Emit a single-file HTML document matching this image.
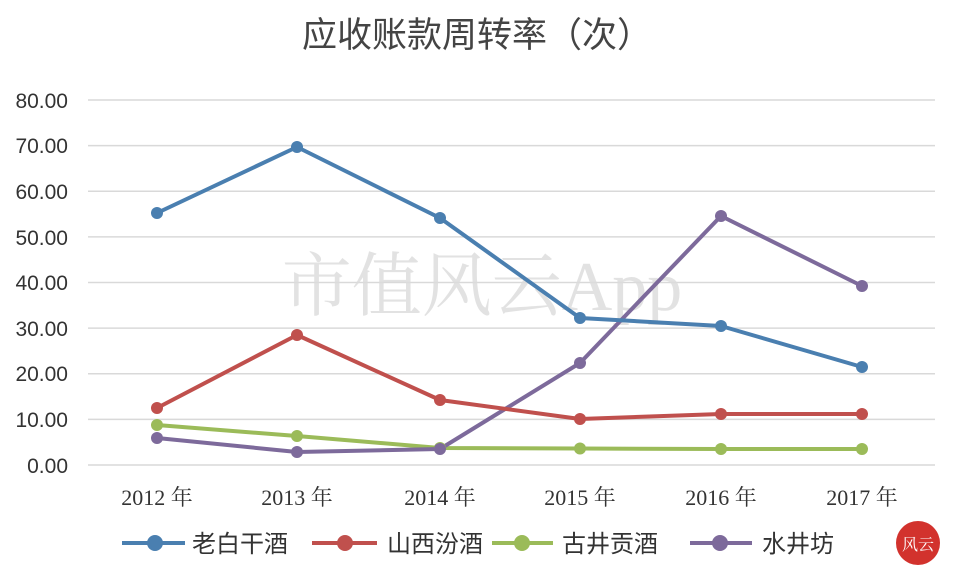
<!DOCTYPE html>
<html><head><meta charset="utf-8"><style>
body{margin:0;background:#fff;}
svg{display:block}
</style></head><body>
<svg width="958" height="574" viewBox="0 0 958 574" xmlns="http://www.w3.org/2000/svg">
<rect width="958" height="574" fill="#fff"/>
<text x="477" y="47" text-anchor="middle" font-family="Liberation Sans, Noto Sans CJK SC, sans-serif" font-size="35" fill="#444">应收账款周转率（次）</text>
<g stroke="#d9d9d9" stroke-width="1.5">
<line x1="88" x2="935" y1="100" y2="100"/><line x1="88" x2="935" y1="145.6" y2="145.6"/>
<line x1="88" x2="935" y1="191.2" y2="191.2"/><line x1="88" x2="935" y1="236.9" y2="236.9"/>
<line x1="88" x2="935" y1="282.5" y2="282.5"/><line x1="88" x2="935" y1="328.1" y2="328.1"/>
<line x1="88" x2="935" y1="373.7" y2="373.7"/><line x1="88" x2="935" y1="419.4" y2="419.4"/>
<line x1="88" x2="935" y1="465" y2="465"/>
</g>
<g font-family="Liberation Sans, sans-serif" font-size="21" fill="#333" text-anchor="end">
<text x="68" y="108">80.00</text><text x="68" y="153">70.00</text><text x="68" y="199">60.00</text>
<text x="68" y="245">50.00</text><text x="68" y="290">40.00</text><text x="68" y="336">30.00</text>
<text x="68" y="381">20.00</text><text x="68" y="427">10.00</text><text x="68" y="473">0.00</text>
</g>
<g font-family="Liberation Serif, Noto Serif CJK SC, serif" font-size="22" fill="#333" text-anchor="middle">
<text x="157" y="505">2012 年</text><text x="297" y="505">2013 年</text><text x="440" y="505">2014 年</text>
<text x="580" y="505">2015 年</text><text x="721" y="505">2016 年</text><text x="862" y="505">2017 年</text>
</g>
<text x="482" y="310" text-anchor="middle" font-family="Liberation Serif, Noto Serif CJK SC, serif" font-size="70" fill="#dcdcdc" opacity="0.8">市值风云App</text>
<g fill="none" stroke-width="4" stroke-linejoin="round">
<polyline stroke="#9bbb59" points="157,425 297,436 440,448 580,448.5 721,449 862,449"/>
<polyline stroke="#7d6a9b" points="157,438 297,452 440,449 580,363 721,216 862,286"/>
<polyline stroke="#c0504d" points="157,408 297,335 440,400 580,419 721,414 862,414"/>
<polyline stroke="#4a7fb0" points="157,213 297,147 440,218 580,318 721,326 862,367"/>
</g>
<g fill="#9bbb59"><circle cx="157" cy="425" r="6"/><circle cx="297" cy="436" r="6"/><circle cx="440" cy="448" r="6"/><circle cx="580" cy="448.5" r="6"/><circle cx="721" cy="449" r="6"/><circle cx="862" cy="449" r="6"/></g>
<g fill="#7d6a9b"><circle cx="157" cy="438" r="6"/><circle cx="297" cy="452" r="6"/><circle cx="440" cy="449" r="6"/><circle cx="580" cy="363" r="6"/><circle cx="721" cy="216" r="6"/><circle cx="862" cy="286" r="6"/></g>
<g fill="#c0504d"><circle cx="157" cy="408" r="6"/><circle cx="297" cy="335" r="6"/><circle cx="440" cy="400" r="6"/><circle cx="580" cy="419" r="6"/><circle cx="721" cy="414" r="6"/><circle cx="862" cy="414" r="6"/></g>
<g fill="#4a7fb0"><circle cx="157" cy="213" r="6"/><circle cx="297" cy="147" r="6"/><circle cx="440" cy="218" r="6"/><circle cx="580" cy="318" r="6"/><circle cx="721" cy="326" r="6"/><circle cx="862" cy="367" r="6"/></g>
<g stroke-width="4">
<line x1="122" x2="185" y1="543" y2="543" stroke="#4a7fb0"/><circle cx="155" cy="543" r="8" fill="#4a7fb0"/>
<line x1="312" x2="377" y1="543" y2="543" stroke="#c0504d"/><circle cx="345" cy="543" r="8" fill="#c0504d"/>
<line x1="492" x2="553" y1="543" y2="543" stroke="#9bbb59"/><circle cx="522" cy="543" r="8" fill="#9bbb59"/>
<line x1="690" x2="752" y1="543" y2="543" stroke="#7d6a9b"/><circle cx="720" cy="543" r="8" fill="#7d6a9b"/>
</g>
<g font-family="Liberation Sans, Noto Sans CJK SC, sans-serif" font-size="24" fill="#333">
<text x="192" y="552">老白干酒</text><text x="387" y="552">山西汾酒</text>
<text x="562" y="552">古井贡酒</text><text x="762" y="552">水井坊</text>
</g>
<circle cx="918" cy="543" r="22" fill="#d2322d"/>
<text x="918" y="550" text-anchor="middle" font-family="Noto Serif CJK SC, serif" font-size="16" fill="#fff">风云</text>
</svg>
</body></html>
